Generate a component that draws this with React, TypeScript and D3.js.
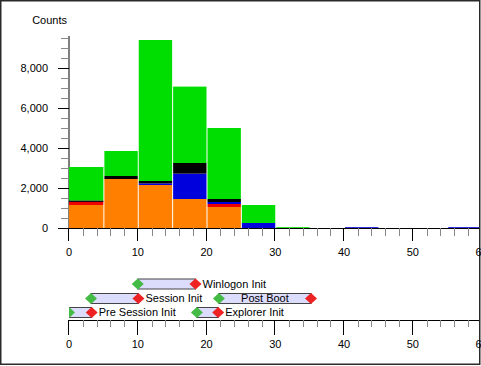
import React from "react";
import * as d3 from "d3";

// histogram bins (seconds) and stacked counts per category
const binStarts = [0, 5, 10, 15, 20, 25, 30, 35, 40, 45, 50, 55];
const orangeCounts = [1150, 2450, 2150, 1450, 1050, 0, 0, 0, 0, 0, 0, 0];
const redCounts = [180, 0, 0, 0, 150, 0, 0, 0, 0, 0, 0, 0];
const blueCounts = [0, 0, 80, 1270, 100, 250, 0, 0, 40, 0, 0, 40];
const blackCounts = [50, 150, 120, 530, 150, 0, 0, 0, 0, 0, 0, 0];
const greenCounts = [1670, 1250, 7050, 3820, 3550, 900, 40, 0, 0, 0, 0, 0];

const yTicks = [0, 2000, 4000, 6000, 8000];
const xTicks = [0, 10, 20, 30, 40, 50, 60];

// boot phases (seconds)
const phaseNames = ["Winlogon Init", "Session Init", "Post Boot", "Pre Session Init", "Explorer Init"];
const phaseStart = [10.0, 3.2, 21.8, 0, 18.6];
const phaseEnd = [18.4, 10.1, 35.2, 3.3, 21.7];
const phaseRow = [0, 1, 1, 2, 2];

const W = 481;
const H = 366;
const FONT = "Tahoma, 'Liberation Sans', sans-serif";

const seriesKeys = ["orange", "red", "blue", "black", "green"];
const seriesColors: Record<string, string> = {
  orange: "#ff8000",
  red: "#ee0000",
  blue: "#0000dd",
  black: "#000000",
  green: "#00dd00",
};

const App: React.FC = () => {
  const left = 69;
  const right = 479;
  const x = d3.scaleLinear().domain([0, 60]).range([69, 481.5]);
  const y = d3.scaleLinear().domain([0, 9600]).range([228, 36]);

  const rows = binStarts.map((b, i) => ({
    bin: b,
    orange: orangeCounts[i],
    red: redCounts[i],
    blue: blueCounts[i],
    black: blackCounts[i],
    green: greenCounts[i],
  }));
  const stacked = d3.stack<any>().keys(seriesKeys)(rows);

  const minorY = d3.range(0, 9600, 500).filter((v) => v % 2000 !== 0);
  const minorX = d3.range(0, 61, 2).filter((v) => v % 10 !== 0);

  const rowY = [284, 298.5, 312.5];
  const barH = 10;
  const diamond = (cx: number, cy: number) =>
    `M${cx - 6},${cy} L${cx},${cy - 5.5} L${cx + 6},${cy} L${cx},${cy + 5.5} Z`;

  const axisY0 = 228;
  const axisY1 = 320;
  const fs = 11;

  return (
    <svg width={W} height={H} style={{ position: "absolute", left: 0, top: 0, background: "#fff" }} fontFamily={FONT}>
      <defs>
        <clipPath id="plotClip">
          <rect x={left} y={0} width={right - left} height={H} />
        </clipPath>
      </defs>
      <rect x={0.75} y={0.75} width={479} height={363.5} fill="#fff" stroke="#2a2a2a" strokeWidth={1.5} />

      {/* y axis */}
      <text x={67} y={24} textAnchor="end" fontSize={fs} fill="#000">Counts</text>
      <line x1={left} x2={left} y1={36} y2={axisY0} stroke="#000" />
      {minorY.map((v) => (
        <line key={"my" + v} x1={61} x2={left} y1={Math.round(y(v)) + 0.5} y2={Math.round(y(v)) + 0.5} stroke="#888" />
      ))}
      {yTicks.map((v) => (
        <g key={"y" + v}>
          <line x1={58} x2={left} y1={Math.round(y(v)) + 0.5} y2={Math.round(y(v)) + 0.5} stroke="#000" />
          <text x={48} y={y(v)} dy="0.35em" textAnchor="end" fontSize={fs} fill="#000">
            {d3.format(",")(v)}
          </text>
        </g>
      ))}

      {/* stacked bars */}
      <g clipPath="url(#plotClip)">
        {stacked.map((s) =>
          s.map((d, i) => {
            const h = y(d[0]) - y(d[1]);
            if (h <= 0) return null;
            const b = binStarts[i];
            return (
              <rect
                key={s.key + i}
                x={x(b) + (i === 0 ? 0 : 1)}
                y={y(d[1])}
                width={x(b + 5) - x(b) - (i === 0 ? 0 : 1)}
                height={Math.max(h, 1.5)}
                fill={seriesColors[s.key]}
              />
            );
          })
        )}
      </g>

      {/* top x axis */}
      <line x1={left} x2={right} y1={axisY0 + 0.5} y2={axisY0 + 0.5} stroke="#000" />
      {minorX.map((v) => (
        <line key={"mx" + v} x1={Math.round(x(v)) + 0.5} x2={Math.round(x(v)) + 0.5} y1={axisY0} y2={axisY0 + 8} stroke="#888" />
      ))}
      {xTicks.map((v) => (
        <g key={"x" + v}>
          <line x1={Math.round(x(v)) - 0.5} x2={Math.round(x(v)) - 0.5} y1={axisY0} y2={axisY0 + 13} stroke="#000" />
          <text x={x(v)} y={252} dy="0.35em" textAnchor="middle" fontSize={fs} fill="#000">{v}</text>
        </g>
      ))}

      {/* phases */}
      <g clipPath="url(#plotClip)">
        {phaseNames.map((name, i) => {
          const x0 = x(phaseStart[i]);
          const x1 = x(phaseEnd[i]);
          const cy = rowY[phaseRow[i]];
          const inside = x1 - x0 > 70;
          return (
            <g key={name}>
              <rect x={x0} y={cy - barH / 2} width={x1 - x0} height={barH} fill="#dcdcfc" stroke="#444" strokeWidth={1} />
              <path d={diamond(x0, cy)} fill="#44bb44" />
              <path d={diamond(x1, cy)} fill="#ee2222" />
              <text
                x={inside ? (x0 + x1) / 2 : x1 + 7}
                y={cy}
                dy="0.35em"
                textAnchor={inside ? "middle" : "start"}
                fontSize={fs}
                fill="#000"
              >
                {name}
              </text>
            </g>
          );
        })}
      </g>

      {/* bottom x axis */}
      <line x1={left} x2={right} y1={axisY1 + 0.5} y2={axisY1 + 0.5} stroke="#000" />
      {minorX.map((v) => (
        <line key={"mb" + v} x1={Math.round(x(v)) + 0.5} x2={Math.round(x(v)) + 0.5} y1={axisY1} y2={axisY1 + 7} stroke="#888" />
      ))}
      {xTicks.map((v) => (
        <g key={"b" + v}>
          <line x1={Math.round(x(v)) - 0.5} x2={Math.round(x(v)) - 0.5} y1={axisY1} y2={axisY1 + 15} stroke="#000" />
          <text x={x(v)} y={344} dy="0.35em" textAnchor="middle" fontSize={fs} fill="#000">{v}</text>
        </g>
      ))}
    </svg>
  );
};

export default App;
